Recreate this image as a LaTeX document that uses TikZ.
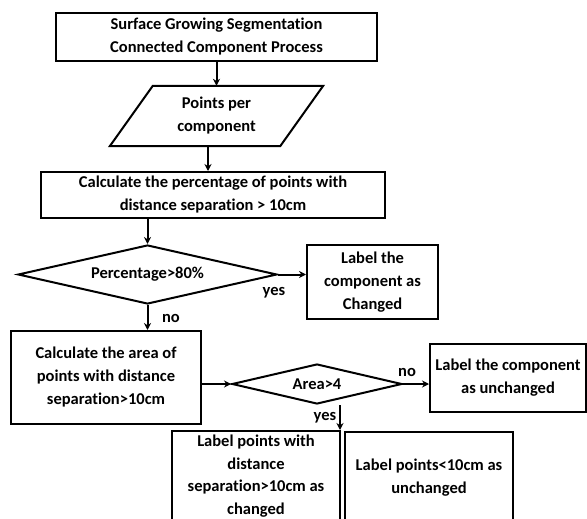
\documentclass[tikz,border=0pt]{standalone}
\usepackage{fontspec}
\setmainfont{Carlito}[Ligatures=NoCommon]
\usetikzlibrary{shapes.geometric,arrows.meta}
\begin{document}
\begin{tikzpicture}[x=1pt,y=-1pt,
  font=\fontsize{16.5}{23}\selectfont\bfseries,
  box/.style={draw, line width=2pt, align=center, inner sep=0pt},
  dia/.style={diamond, draw, line width=2pt, inner sep=0pt},
  arr/.style={line width=2pt, -{Stealth[length=7pt,width=7pt]}},
  lbl/.style={inner sep=0pt, align=center}]
\useasboundingbox (0,0) rectangle (587,519);
\clip (0,0) rectangle (587,519);
\node[box, minimum width=321pt, minimum height=48pt] (b1) at (216.5,37) {Surface Growing Segmentation\\Connected Component Process};
\node[lbl, minimum width=170pt, minimum height=60pt] (p) at (216.5,116) {Points per\\component};
\draw[line width=2pt] ([xshift=-21.5pt]p.south west) -- ([xshift=21.5pt]p.north west) -- ([xshift=21.5pt]p.north east) -- ([xshift=-21.5pt]p.south east) -- cycle;
\node[box, minimum width=344pt, minimum height=46pt] (b3) at (213,195) {Calculate the percentage of points with\\distance separation > 10cm};
\node[dia, minimum width=259pt, minimum height=59pt] (d1) at (147.5,274.5) {\makebox[0pt]{Percentage>80\%}};
\node[box, minimum width=131pt, minimum height=74pt] (c1) at (372.5,282) {Label the\\component as\\Changed};
\node[box, minimum width=190pt, minimum height=93pt] (b4) at (106,377.5) {Calculate the area of\\points with distance\\separation>10cm};
\node[dia, minimum width=170pt, minimum height=40pt] (d2) at (317,384) {\makebox[0pt]{Area>4}};
\node[box, minimum width=156pt, minimum height=68pt] (c2) at (508,378) {Label the component\\as unchanged};
\node[box, minimum width=168pt, minimum height=90pt, font=\fontsize{16.5}{22.5}\selectfont\bfseries] (l1) at (256,476) {Label points with\\distance\\separation>10cm as\\changed};
\node[box, minimum width=168pt, minimum height=92pt] (l2) at (429,478) {Label points<10cm as\\unchanged};
\draw[arr] (b1.south) -- (p.north);
\draw[arr] ([xshift=-8.5pt]p.south) -- ([xshift=-8.5pt]p.south |- b3.north);
\draw[arr] (b3.south -| d1.north) -- (d1.north);
\draw[arr] (d1.east) -- (d1.east -| c1.west);
\node[lbl] (yes1) at (274,293) {yes};
\draw[arr] (d1.south) -- (d1.south |- b4.north);
\node[lbl] (no1) at (171,318) {no};
\draw[arr] (b4.east |- d2.west) -- (d2.west);
\draw[arr] (d2.east) -- (d2.east -| c2.west);
\node[lbl] (no2) at (407,372) {no};
\draw[arr] ([xshift=23pt]d2.south) -- ([xshift=23pt]d2.south |- l1.north);
\node[lbl] (yes2) at (325,418) {yes};
\end{tikzpicture}
\end{document}
